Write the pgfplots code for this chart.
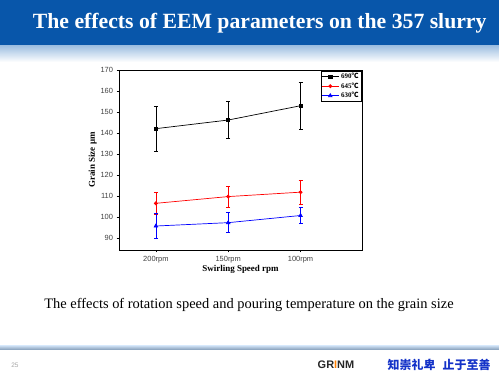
\documentclass[border=0pt]{standalone}
\usepackage{pgfplots}
\pgfplotsset{compat=1.18}
\usepackage{fontspec}
\setmainfont{Liberation Serif}
\setsansfont{Liberation Sans}
\newfontfamily\cjk{Noto Sans CJK SC}
\definecolor{band}{RGB}{8,86,170}
\definecolor{lightband}{RGB}{160,192,226}
\definecolor{cjkblue}{RGB}{20,50,200}
\begin{document}
\begin{tikzpicture}
\fill[white] (0,0) rectangle (499bp,374bp);
% title band
\fill[band] (0,328bp) rectangle (499bp,374bp);
\shade[top color=lightband, bottom color=white] (0,312bp) rectangle (499bp,328bp);
\node[text=white, font=\bfseries\fontsize{21.8}{24}\selectfont, anchor=east] at (490bp,351bp) {The effects of EEM parameters on the 357 slurry};
% bottom line
\shade[top color=lightband!60!white, bottom color=lightband!80!black] (0,24bp) rectangle (499bp,28bp);
\node[text=gray!70, font=\sffamily\fontsize{6.5}{7}\selectfont] at (15bp,9bp) {25};
\node[text=black!85, font=\sffamily\bfseries\fontsize{11}{12}\selectfont] at (336bp,9bp) {GR\textcolor{orange}{I}NM};
\node[text=cjkblue, font=\cjk\bfseries\fontsize{12}{13}\selectfont, anchor=east] at (494bp,9bp) {知崇礼卑\hspace{0.6em}止于至善};
% caption
\node[font=\fontsize{14.5}{16}\selectfont] at (249bp,69bp) {The effects of rotation speed and pouring temperature on the grain size};
\begin{axis}[
  at={(119bp,124bp)}, anchor=south west,
  width=243bp, height=180bp, scale only axis,
  xmin=-0.51, xmax=2.85, ymin=84.4, ymax=170,
  xtick={0,1,2}, xticklabels={200rpm,150rpm,100rpm},
  ytick={90,100,...,170},
  tick align=outside, tick pos=left,
  major tick length=2.5pt,
  axis line style={line width=0.9pt},
  every tick/.style={black, line width=0.6pt},
  tick label style={font=\sffamily\fontsize{7.5}{8}\selectfont, text=black!75},
  /pgf/number format/assume math mode=true,
  xlabel={\bfseries Swirling Speed rpm},
  ylabel={\bfseries Grain Size μm},
  label style={font=\fontsize{9}{10}\selectfont},
  xlabel style={yshift=4pt},
  ylabel style={yshift=-3pt},
  legend style={at={(0.997,0.997)}, anchor=north east, font=\bfseries\fontsize{7}{7}\selectfont, draw=black, inner sep=0.5pt, row sep=-1.5pt, legend cell align=left},
  error bars/y dir=both, error bars/y explicit,
  error bars/error mark options={rotate=90, mark size=2pt, line width=0.6pt},
  error bars/error bar style={line width=0.7pt},
]
\addplot[black, line width=0.7pt, mark=square*, mark size=1.6pt] coordinates {
  (0,142.1) +- (0,10.6)
  (1,146.2) +- (0,8.9)
  (2,153.0) +- (0,11.0)
};
\addlegendentry{690{\cjk ℃}}
\addplot[red, line width=0.7pt, mark=*, mark size=1.6pt] coordinates {
  (0,106.6) +- (0,5.3)
  (1,109.8) +- (0,5.0)
  (2,111.9) +- (0,5.7)
};
\addlegendentry{645{\cjk ℃}}
\addplot[blue, line width=0.7pt, mark=triangle*, mark size=2pt] coordinates {
  (0,95.8) +- (0,6.0)
  (1,97.4) +- (0,4.7)
  (2,100.8) +- (0,3.8)
};
\addlegendentry{630{\cjk ℃}}
\end{axis}
\end{tikzpicture}
\end{document}
